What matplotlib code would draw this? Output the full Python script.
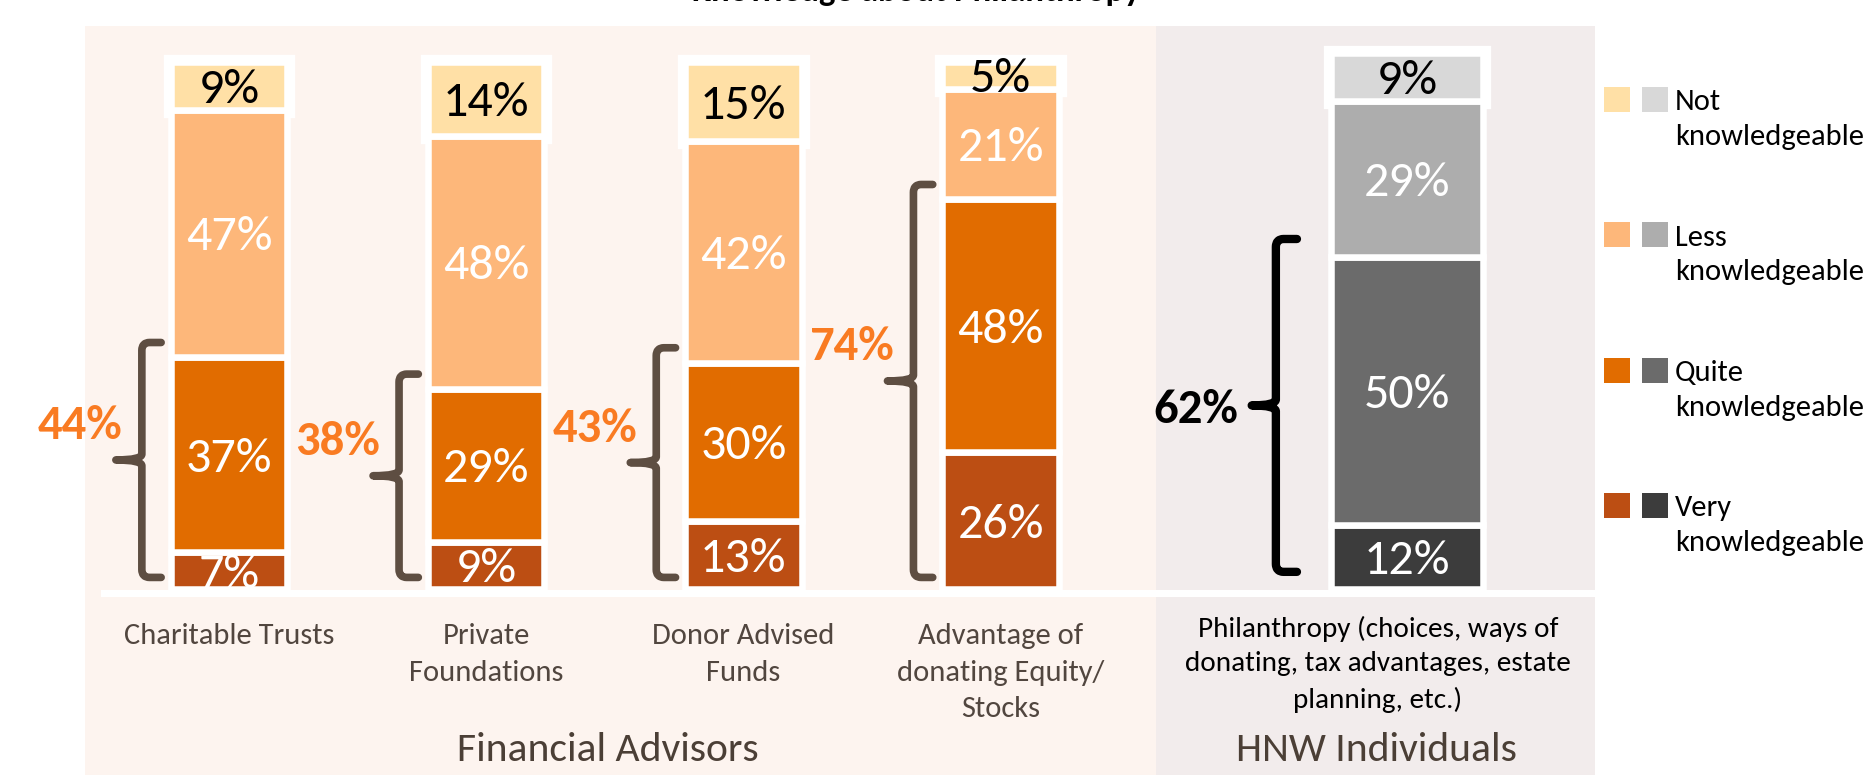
import matplotlib
matplotlib.use("Agg")
import matplotlib.pyplot as plt
from matplotlib import font_manager
from matplotlib.path import Path
from matplotlib.patches import PathPatch, Rectangle

# ---------------- data ----------------
fa_categories = ["Charitable Trusts", "Private\nFoundations", "Donor Advised\nFunds",
                 "Advantage of\ndonating Equity/\nStocks"]
fa_very = [7, 9, 13, 26]
fa_quite = [37, 29, 30, 48]
fa_less = [47, 48, 42, 21]
fa_not = [9, 14, 15, 5]

hnw_categories = ["Philanthropy (choices, ways of\ndonating, tax advantages, estate\nplanning, etc.)"]
hnw_very = [12]
hnw_quite = [50]
hnw_less = [29]
hnw_not = [9]

level_labels = ["Not\nknowledgeable", "Less\nknowledgeable",
                "Quite\nknowledgeable", "Very\nknowledgeable"]
group_labels = ["Financial Advisors", "HNW Individuals"]
title_text = "Knowledge about Philanthropy"

# ---------------- style ----------------
fa_colors = ["#BC4E13", "#E16C00", "#FDB77A", "#FFE0A6"]   # very, quite, less, not
hnw_colors = ["#3C3C3C", "#6B6B6B", "#ADADAD", "#D8D8D8"]
txt_colors = ["white", "white", "white", "black"]
ORANGE_TXT = "#F97B22"
BRACE_FA = "#5E4E42"
LABEL_COL = "#51463F"
GROUP_COL = "#4B3F36"
FA_BG = "#FDF4EF"
HNW_BG = "#F2ECEC"

available = {f.name for f in font_manager.fontManager.ttflist}
FONT = next((f for f in ["Carlito", "Lato", "Open Sans", "DejaVu Sans"] if f in available), "DejaVu Sans")
plt.rcParams['font.family'] = [FONT, 'DejaVu Sans']

W, H = 1876, 775
fig = plt.figure(figsize=(W / 100, H / 100), dpi=100)
fig.patch.set_facecolor("white")

UNIT = 257.2      # pixels per category step
X0 = 229.0        # pixel x of first bar centre
BASE = 589.0      # pixel y of bar baseline
FA_PPU = 5.267    # pixels per percent (advisors)
HNW_PPU = 5.36    # pixels per percent (individuals)
ASC = 0.74        # ascent of first text line, in em


def fx(px):
    return px / W


def fy(py):
    return 1 - py / H


def top_of(baseline_px, size_pt):
    """pixel y of the top of a text whose first baseline is at baseline_px"""
    return baseline_px - ASC * size_pt * 100 / 72


xlim = (-X0 / UNIT, (W - X0) / UNIT)
ax = fig.add_axes([0, 0, 1, 1])
ax.set_xlim(*xlim)
ax.set_ylim(-(H - BASE) / FA_PPU, BASE / FA_PPU)
ax.axis("off")
ax2 = fig.add_axes([0, 0, 1, 1])
ax2.set_xlim(*xlim)
ax2.set_ylim(-(H - BASE) / HNW_PPU, BASE / HNW_PPU)
ax2.axis("off")

# background panels and baseline band
ax.add_patch(Rectangle((fx(85), 0), fx(1156) - fx(85), fy(26), transform=ax.transAxes,
                       facecolor=FA_BG, edgecolor="none", zorder=0))
ax.add_patch(Rectangle((fx(1156), 0), fx(1595) - fx(1156), fy(26), transform=ax.transAxes,
                       facecolor=HNW_BG, edgecolor="none", zorder=0))
ax.add_patch(Rectangle((fx(101), fy(597)), fx(1595) - fx(101), 7 / H, transform=ax.transAxes,
                       facecolor="white", edgecolor="none", zorder=1))

fa_x = list(range(len(fa_categories)))
hnw_x = [(1407 - X0) / UNIT]
FA_W = 116.5 / UNIT
HNW_W = 152.5 / UNIT
SEG_LW = 4.7


def draw_stack(a, xs, width, series, colors):
    bottoms = [0.0] * len(xs)
    n = len(series)
    for k, (vals, col, tc) in enumerate(zip(series, colors, txt_colors)):
        if k == n - 1:
            a.bar(xs, vals, bottom=bottoms, width=width, color="white",
                  edgecolor="white", linewidth=11, zorder=2)
        a.bar(xs, vals, bottom=bottoms, width=width, color=col,
              edgecolor="white", linewidth=SEG_LW, zorder=3)
        for x, v, b in zip(xs, vals, bottoms):
            a.text(x, b + v / 2, f"{v}%", ha="center", va="center_baseline",
                   fontsize=36, color=tc, zorder=5)
        bottoms = [b + v for b, v in zip(bottoms, vals)]


draw_stack(ax, fa_x, FA_W, [fa_very, fa_quite, fa_less, fa_not], fa_colors)
draw_stack(ax2, hnw_x, HNW_W, [hnw_very, hnw_quite, hnw_less, hnw_not], hnw_colors)


def brace(a, x_line, x_arm, x_tip, y0, y1, color, lw, r, r2):
    ym = (y0 + y1) / 2
    dx = 0.03
    verts = [(x_arm, y1), (x_line + dx, y1), (x_line, y1), (x_line, y1 - r),
             (x_line, ym + r2), (x_line, ym), (x_tip, ym),
             (x_line, ym), (x_line, ym - r2),
             (x_line, y0 + r), (x_line, y0), (x_line + dx, y0), (x_arm, y0)]
    codes = [Path.MOVETO, Path.LINETO, Path.CURVE3, Path.CURVE3,
             Path.LINETO, Path.CURVE3, Path.CURVE3,
             Path.CURVE3, Path.CURVE3,
             Path.LINETO, Path.CURVE3, Path.CURVE3, Path.LINETO]
    a.add_patch(PathPatch(Path(verts, codes), fill=False, edgecolor=color, lw=lw,
                          capstyle="round", joinstyle="round", zorder=4))
    return ym


# braces: advisors
for x, v, q in zip(fa_x, fa_very, fa_quite):
    total = v + q
    left = x - FA_W / 2 + 3.25 / UNIT
    ym = brace(ax, left - 0.125, left - 0.05, left - 0.226, 2.2, total + 2.8,
               BRACE_FA, 5.5, 1.5, 1.1)
    ax.text(left - 0.2, ym + 4, f"{total}%", ha="right", va="baseline",
            fontsize=35, fontweight="bold", color=ORANGE_TXT, zorder=5)

# braces: individuals
for x, v, q in zip(hnw_x, hnw_very, hnw_quite):
    total = v + q
    left = x - HNW_W / 2 + 3.25 / UNIT
    ym = brace(ax2, left - 0.226, left - 0.144, left - 0.32, 3.2, total + 3.3,
               "black", 6, 1.5, 1.1)
    ax2.text(left - 0.373, ym - 3.2, f"{total}%", ha="right", va="baseline",
             fontsize=35, fontweight="bold", color="black", zorder=5)

# category labels
CAT_PT = 22
for x, lab in zip(fa_x, fa_categories):
    ax.text(x, (BASE - top_of(646, CAT_PT)) / FA_PPU, lab, ha="center", va="top",
            fontsize=CAT_PT, color=LABEL_COL, linespacing=1.5)
PH_PT = 21
for lab in hnw_categories:
    ax.text(fx(1378), fy(top_of(637, PH_PT)), lab, transform=ax.transAxes, ha="center",
            va="top", fontsize=PH_PT, color="black", linespacing=1.49)

# group labels
ax.text(fx(608), fy(761), group_labels[0], transform=ax.transAxes, ha="center",
        va="baseline", fontsize=30, color=GROUP_COL)
ax.text(fx(1376), fy(761), group_labels[1], transform=ax.transAxes, ha="center",
        va="baseline", fontsize=30, color=GROUP_COL)

# legend (top level first)
LEG_PT = 22
for i, lab in enumerate(level_labels):
    k = len(level_labels) - 1 - i
    base = 112 + 135.3 * i
    ax.add_patch(Rectangle((fx(1604), fy(base)), 26 / W, 25 / H, transform=ax.transAxes,
                           facecolor=fa_colors[k], edgecolor="none", clip_on=False))
    ax.add_patch(Rectangle((fx(1642), fy(base)), 26 / W, 25 / H, transform=ax.transAxes,
                           facecolor=hnw_colors[k], edgecolor="none", clip_on=False))
    ax.text(fx(1675), fy(top_of(base, LEG_PT)), lab, transform=ax.transAxes, ha="left",
            va="top", fontsize=LEG_PT, color="black", linespacing=1.41)

# title (cut off at the top edge, as in the original)
ax.text(fx(916), fy(1.0), title_text, transform=ax.transAxes, ha="center", va="baseline",
        fontsize=25, fontweight="bold", color="black", clip_on=False)

fig.savefig("out.png", dpi=100, facecolor="white")
